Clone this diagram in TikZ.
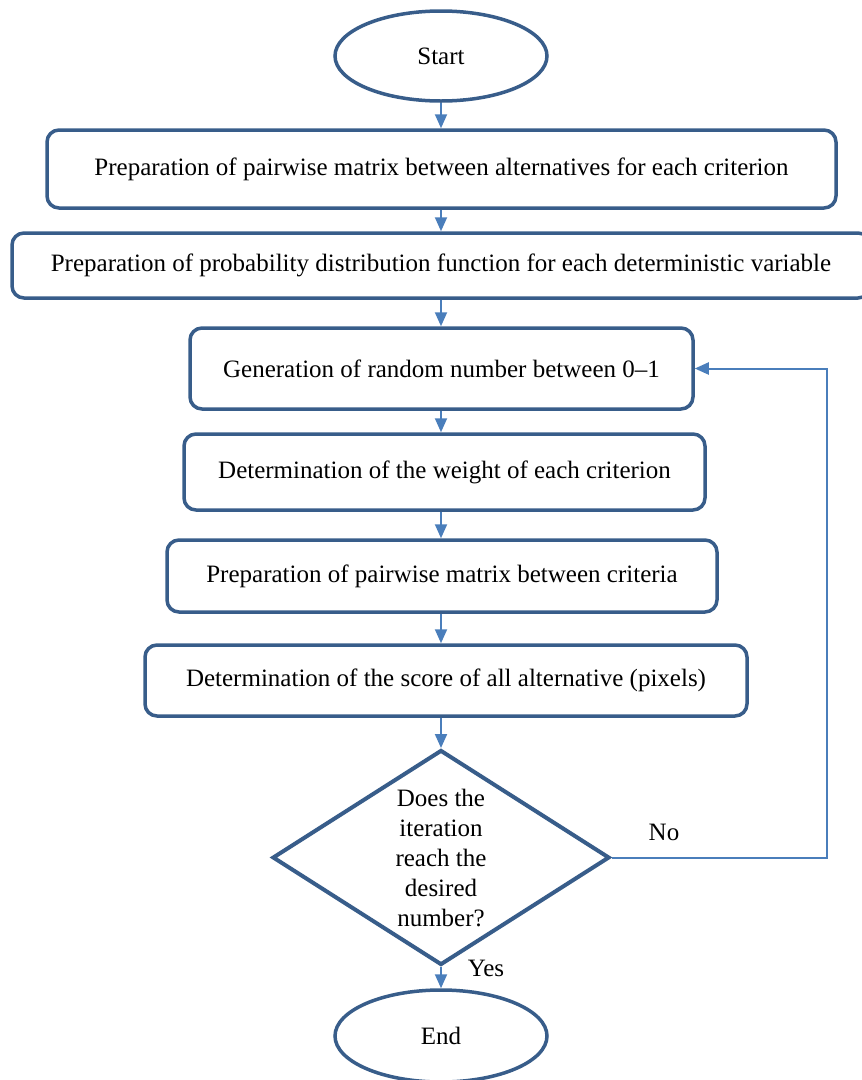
\documentclass[tikz,border=0pt]{standalone}
\usepackage{fontspec}
\setmainfont{Liberation Serif}
\usetikzlibrary{shapes.geometric,arrows.meta}
\definecolor{bord}{RGB}{56,93,138}
\definecolor{arr}{RGB}{74,126,187}
\begin{document}
\begin{tikzpicture}[x=1pt,y=-1pt,
  txt/.style={font=\fontsize{25}{30}\selectfont},
  box/.style={txt,draw=bord,line width=3.5pt,rounded corners=12pt,fill=white,inner sep=0pt},
  term/.style={txt,ellipse,draw=bord,line width=3.5pt,fill=white,inner sep=0pt},
  flow/.style={draw=arr,line width=2pt,-{Triangle[length=14pt,width=12pt]}}]
\useasboundingbox (0,0) rectangle (862,1080);
\node[term,minimum width=212pt,minimum height=90pt] (start) at (441,56) {Start};
\node[box,minimum width=789pt,minimum height=78pt] (b1) at (441.5,169) {Preparation of pairwise matrix between alternatives for each criterion};
\node[box,minimum width=858pt,minimum height=65pt] (b2) at (441,265.5) {Preparation of probability distribution function for each deterministic variable};
\node[box,minimum width=503pt,minimum height=81pt] (b3) at (441.5,368.5) {Generation of random number between 0--1};
\node[box,minimum width=521pt,minimum height=76pt] (b4) at (444.5,472) {Determination of the weight of each criterion};
\node[box,minimum width=550pt,minimum height=72pt] (b5) at (442,576) {Preparation of pairwise matrix between criteria};
\node[box,minimum width=602pt,minimum height=71pt] (b6) at (446,680.5) {Determination of the score of all alternative (pixels)};
\node[diamond,draw=bord,line width=4pt,minimum width=337pt,minimum height=215pt,inner sep=0pt] (dec) at (441,857.5) {};
\node[txt,align=center] (dectext) at (dec) {Does the\\iteration\\reach the\\desired\\number?};
\node[term,minimum width=212pt,minimum height=92pt] (end) at (441,1036) {End};
\coordinate (loopx) at (827,0);
\draw[flow] (start.south) -- (b1.north -| start);
\draw[flow] (b1.south -| start) -- (b2.north -| start);
\draw[flow] (b2.south -| start) -- (b3.north -| start);
\draw[flow] (b3.south -| start) -- (b4.north -| start);
\draw[flow] (b4.south -| start) -- (b5.north -| start);
\draw[flow] (b5.south -| start) -- (b6.north -| start);
\draw[flow] (b6.south -| start) -- (dec.north);
\draw[flow] (dec.south) -- (end.north);
\draw[flow] (dec.east) -- (dec.east -| loopx) |- (b3.east);
\node[txt] (no) at (664,832) {No};
\node[txt] (yes) at (486,968) {Yes};
\end{tikzpicture}
\end{document}
